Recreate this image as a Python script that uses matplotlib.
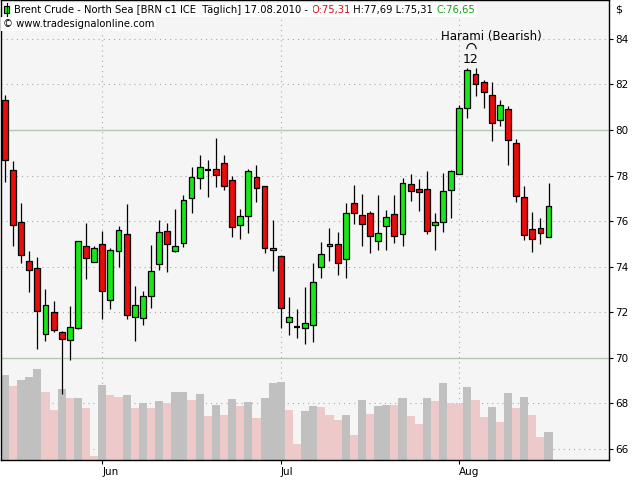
import matplotlib
matplotlib.use('Agg')
import matplotlib.pyplot as plt
from matplotlib.patches import Rectangle, Arc

# ---------------- data ----------------
opens = [81.32, 78.24, 75.94, 74.23, 73.92, 71.03, 71.99, 71.11, 70.76, 71.31,
         74.89, 74.18, 74.98, 72.51, 74.67, 75.42, 71.77, 71.72, 72.69, 74.10,
         75.55, 74.67, 75.02, 77.00, 77.88, 78.23, 78.27, 78.54, 77.79, 75.81,
         76.21, 77.92, 77.53, 74.71, 74.45, 71.57, 71.35, 71.28, 71.42, 73.99,
         74.89, 74.98, 74.32, 76.78, 76.25, 76.34, 75.11, 75.77, 76.29, 75.42,
         77.61, 77.39, 77.39, 75.81, 75.94, 77.35, 78.05, 80.95, 82.46, 82.10,
         81.53, 80.43, 80.91, 79.42, 77.04, 75.64, 75.68, 75.31]
highs = [81.54, 78.64, 76.79, 74.67, 74.42, 73.01, 72.48, 71.18, 72.25, 75.11,
         75.93, 74.91, 75.56, 74.80, 75.79, 76.75, 73.13, 72.92, 74.96, 76.04,
         75.90, 76.53, 77.14, 78.37, 78.90, 78.68, 79.64, 78.90, 77.98, 76.53,
         78.27, 78.46, 77.53, 76.03, 74.45, 72.66, 72.13, 73.10, 74.14, 75.08,
         75.68, 75.52, 76.80, 77.58, 77.19, 76.43, 77.14, 76.48, 77.14, 77.88,
         78.05, 77.83, 78.20, 76.35, 78.10, 78.24, 81.10, 82.71, 82.74, 82.20,
         82.10, 81.32, 81.04, 79.59, 77.54, 76.38, 76.12, 77.69]
lows = [77.73, 74.91, 74.17, 72.89, 70.39, 70.74, 71.11, 68.38, 69.88, 71.27,
        73.45, 74.18, 71.69, 72.15, 73.96, 71.68, 70.71, 71.44, 72.19, 73.86,
        73.77, 74.62, 74.87, 76.36, 77.42, 77.04, 77.51, 77.35, 75.31, 75.20,
        75.49, 76.85, 74.61, 73.82, 71.31, 71.00, 70.87, 70.58, 70.70, 73.51,
        74.23, 73.64, 73.48, 75.85, 74.91, 74.58, 74.71, 74.71, 75.02, 74.89,
        76.87, 76.45, 75.42, 74.74, 75.53, 76.15, 78.05, 80.54, 81.51, 80.95,
        79.50, 80.19, 78.45, 76.85, 75.16, 74.62, 74.98, 75.31]
closes = [78.67, 75.81, 74.49, 73.83, 72.04, 72.29, 71.21, 70.80, 71.33, 75.11,
          74.36, 74.80, 72.91, 74.71, 75.59, 71.85, 72.29, 72.69, 73.79, 75.50,
          74.98, 74.89, 76.91, 77.92, 78.36, 78.23, 78.01, 77.53, 75.72, 76.21,
          78.20, 77.44, 74.80, 74.80, 72.16, 71.77, 71.35, 71.50, 73.31, 74.54,
          74.98, 74.14, 76.34, 76.34, 75.85, 75.33, 75.46, 76.16, 75.33, 77.66,
          77.31, 77.26, 75.55, 75.94, 77.31, 78.18, 80.95, 82.62, 82.01, 81.66,
          80.29, 81.09, 79.55, 77.09, 75.37, 75.20, 75.46, 76.65]
volume = [85, 74, 80, 83, 91, 68, 50, 71, 62, 62.5,
          52, 4, 75, 65, 63, 65, 52, 57, 52, 59,
          57, 68, 68.5, 60, 66, 44, 55, 45, 61, 54,
          58, 42, 62, 77, 78, 50, 16, 49, 54, 53.5,
          45, 40, 45, 25, 60, 46, 54, 55, 54.7, 62,
          44, 36, 62, 59, 77, 57, 56, 73, 60, 43,
          53, 38, 67, 52, 63, 45, 23, 28]
month_labels = ['Jun', 'Jul', 'Aug']
month_index = [12, 34, 56]
price_ticks = [66, 68, 70, 72, 74, 76, 78, 80, 82, 84]
solid_levels = [70, 80]
pattern_name = 'Harami (Bearish)'
pattern_id = '12'
pattern_index = 57.5

header_parts = [
    ('Brent Crude - North Sea [BRN c1 ICE  T\u00e4glich] 17.08.2010 - ', 'black'),
    ('O:75,31', '#D01010'),
    (' H:77,69 L:75,31 ', 'black'),
    ('C:76,65', '#10A010'),
]
copyright_text = '\u00a9 www.tradesignalonline.com'

# ---------------- style ----------------
plt.rcParams['font.family'] = ['DejaVu Sans']
GREEN = '#18E818'
RED = '#EA0C0C'
BG = '#F5F5F5'
VOL_UP = '#C0C0C0'
VOL_DN = '#EDC9C9'
GRID = '#A9A9A9'
SOLID = '#B3C8B3'

W, H = 640, 480
fig = plt.figure(figsize=(W / 100, H / 100), dpi=100)
fig.patch.set_facecolor('white')
rect = [1 / W, 20 / H, 608 / W, 460 / H]
XLIM = (-0.484, 74.45)
YLIM = (65.495, 85.714)

axg = fig.add_axes(rect)
axv = fig.add_axes(rect)
ax = fig.add_axes(rect)

# background + grid
axg.set_facecolor(BG)
axg.set_xlim(*XLIM)
axg.set_ylim(*YLIM)
for lv in price_ticks:
    if lv in solid_levels:
        axg.axhline(lv, color=SOLID, lw=1.0)
    else:
        axg.axhline(lv, color=GRID, lw=0.8, ls=(0, (1, 3.6)))
for m in month_index:
    axg.axvline(m, color=GRID, lw=0.8, ls=(0, (1, 3.6)))
axg.tick_params(left=False, labelleft=False, bottom=False, labelbottom=False)
for s in axg.spines.values():
    s.set_visible(False)

# volume
n = len(closes)
xs = list(range(n))
vcols = [VOL_UP if (i == 0 or volume[i] >= volume[i - 1]) else VOL_DN for i in xs]
axv.bar(xs, volume, width=1.0, color=vcols, linewidth=0)
axv.set_xlim(*XLIM)
axv.set_ylim(0, 460)
axv.patch.set_visible(False)
axv.axis('off')

# candles
ax.patch.set_visible(False)
bw = 0.72
for i in xs:
    o, h, l, c = opens[i], highs[i], lows[i], closes[i]
    ax.vlines(i, l, h, color='black', lw=0.9, zorder=2)
    if abs(c - o) < 0.015:
        ax.hlines(o, i - bw / 2, i + bw / 2, color='black', lw=1.6, zorder=3)
    else:
        col = GREEN if c > o else RED
        ax.add_patch(Rectangle((i - bw / 2, min(o, c)), bw, abs(c - o),
                               facecolor=col, edgecolor='black', lw=0.9, zorder=3))

ax.set_xlim(*XLIM)
ax.set_ylim(*YLIM)
ax.yaxis.tick_right()
ax.set_yticks(price_ticks)
ax.set_yticklabels([str(t) for t in price_ticks])
ax.set_xticks(month_index)
ax.set_xticklabels(month_labels)
for lbl in ax.get_xticklabels():
    lbl.set_ha('left')
ax.tick_params(axis='y', direction='out', length=3, width=0.8, pad=1.5,
               labelsize=7.5, right=True, left=False)
ax.tick_params(axis='x', direction='out', length=3, width=0.8, pad=2,
               labelsize=7.5)
for s in ax.spines.values():
    s.set_color('black')
    s.set_linewidth(1.0)

# pattern annotation
ax.text(59.9, 84.13, pattern_name, ha='center', va='center', fontsize=8.5)
ax.text(pattern_index - 0.1, 83.12, pattern_id, ha='center', va='center', fontsize=9)
ax.add_patch(Arc((pattern_index, 83.55), 1.15, 0.5, theta1=0, theta2=180,
                 color='black', lw=0.8))

# header
fig.text(470 / W, 1 - 0.5 / H, '', )
prev = None
for k, (s, col) in enumerate(header_parts):
    if prev is None:
        prev = fig.text(14 / W, 1 - 15 / H, s, color=col, fontsize=7.2,
                        ha='left', va='bottom',
                        bbox=dict(fc='white', ec='none', pad=1.2))
    else:
        prev = ax.annotate(s, xy=(1, 0), xycoords=prev, color=col, fontsize=7.2,
                           ha='left', va='bottom',
                           bbox=dict(fc='white', ec='none', pad=1.2))
fig.text(3 / W, 1 - 29 / H, copyright_text, fontsize=7.2, ha='left', va='bottom',
         bbox=dict(fc='white', ec='none', pad=1.2))
# small candle icon
fig.add_artist(plt.Line2D([6.5 / W, 6.5 / W], [1 - 16 / H, 1 - 3 / H],
                          color='black', lw=0.8, transform=fig.transFigure))
fig.add_artist(Rectangle((4 / W, 1 - 13 / H), 5 / W, 7 / H, facecolor=GREEN,
                         edgecolor='black', lw=0.8, transform=fig.transFigure))

fig.text(615 / W, 1 - 9 / H, '$', fontsize=8, ha='left', va='center')

fig.savefig('out.png', dpi=100, facecolor='white')
